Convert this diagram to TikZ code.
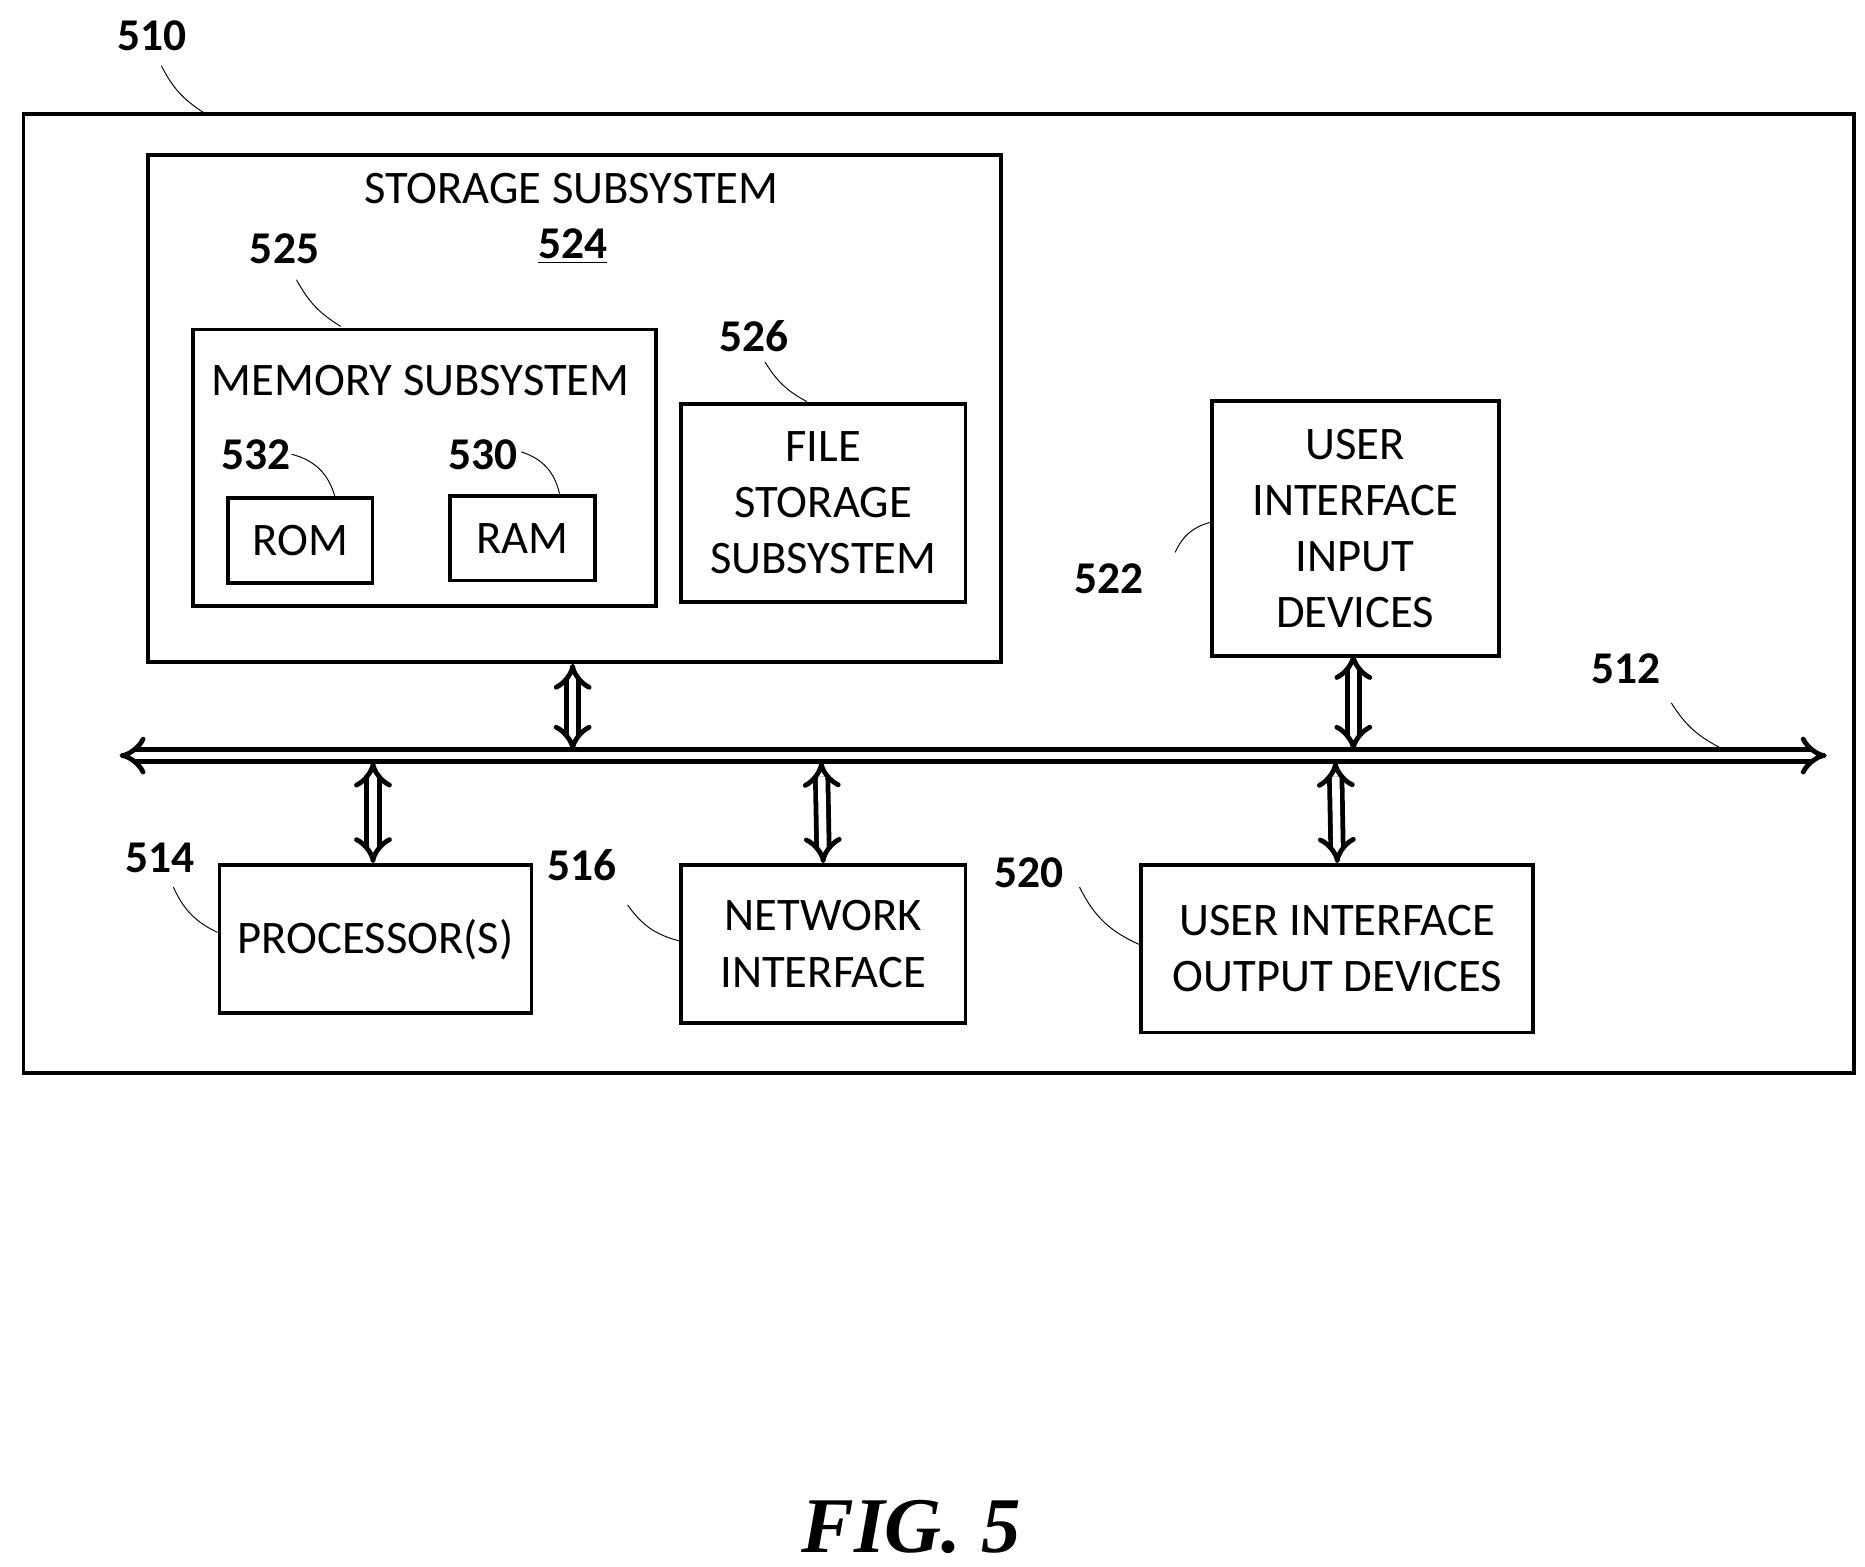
\documentclass[tikz,border=0pt]{standalone}
\usepackage{fontspec}
\setmainfont{Carlito}
\newfontfamily\figfont{Liberation Serif}
\usetikzlibrary{arrows.meta,positioning}
\begin{document}
\begin{tikzpicture}[x=0.5pt,y=-0.5pt,
	box/.style={draw, line width=1.6pt, inner sep=0pt},
	txt/.style={font=\fontsize{19.5}{23.5}\selectfont, align=center},
	num/.style={font=\fontsize{19}{22}\selectfont\bfseries},
	lead/.style={thin},
	bus/.style={double, double distance=3.2pt, line width=2pt, {Implies}-{Implies}},
	]
	\useasboundingbox (0,0) rectangle (1560,1310);
	% frames
	\node[box, minimum width=765.5pt, minimum height=401pt, anchor=north west] (sys) at (18,94) {};
	\node[box, minimum width=357pt, minimum height=212pt, anchor=north west] (storage) at (122,128) {};
	\node[box, minimum width=193.5pt, minimum height=115.5pt, anchor=north west] (memory) at (160,274) {};
	\node[box, minimum width=60.5pt, minimum height=35.5pt, anchor=north west, txt] (rom) at (189,415) {ROM};
	\node[box, minimum width=60.5pt, minimum height=35.5pt, anchor=north west, txt] (ram) at (375,413) {RAM};
	\node[box, minimum width=119pt, minimum height=83pt, anchor=north west] (file) at (568,336) {};
	\node[txt] at (file.center) {FILE\\STORAGE\\SUBSYSTEM};
	\node[box, minimum width=120pt, minimum height=106.5pt, anchor=north west] (uiin) at (1012,334) {};
	\node[txt] at (uiin.center) {USER\\INTERFACE\\INPUT\\DEVICES};
	\node[box, minimum width=130.5pt, minimum height=62pt, anchor=north west, txt] (proc) at (182,722) {PROCESSOR(S)};
	\node[box, minimum width=119pt, minimum height=66pt, anchor=north west] (net) at (568,722) {};
	\node[txt] at (net.center) {NETWORK\\INTERFACE};
	\node[box, minimum width=164pt, minimum height=70pt, anchor=north west] (uiout) at (953,722) {};
	\node[txt] at (uiout.center) {USER INTERFACE\\OUTPUT DEVICES};
	% titles
	\node[txt] (storageText) at (478,158) {STORAGE SUBSYSTEM};
	\node[num] (storageNum) at (479,206) {\underline{524}};
	\node[txt] (memoryText) at (352,318) {MEMORY SUBSYSTEM};
	% bus
	\coordinate (busL) at (100,632);
	\coordinate (busR) at (1528,632);
	\draw[bus] (busL) -- (busR);
	\draw[bus] (storage.south -| storageNum) -- (479,628);
	\draw[bus] (1132,547) -- (1132,628);
	\draw[bus] (312,637) -- (proc.north -| 312,0);
	\draw[bus] (687,637) -- (net.north);
	\draw[bus] (1117,637) -- (uiout.north);
	% reference numerals
	\node[num] (n510) at (127,30) {510};
	\node[num] (n525) at (238,208) {525};
	\node[num] (n532) at (214,380) {532};
	\node[num] (n530) at (404,380) {530};
	\node[num] (n526) at (631,281) {526};
	\node[num] (n522) at (928,484) {522};
	\node[num] (n512) at (1360,559) {512};
	\node[num] (n514) at (134,718) {514};
	\node[num] (n516) at (487,724) {516};
	\node[num] (n520) at (861,730) {520};
	\draw[lead] (135,55) to[bend right=15] (170,94);
	\draw[lead] (248,234) to[bend right=15] (285,273);
	\draw[lead] (244,380) to[bend left=30] (280,415);
	\draw[lead] (436,378) to[bend left=30] (468,413);
	\draw[lead] (640,303) to[bend right=15] (675,336);
	\draw[lead] (983,462) to[bend left=25] (1012,437);
	\draw[lead] (1398,588) to[bend right=15] (1438,625);
	\draw[lead] (145,742) to[bend right=20] (182,780);
	\draw[lead] (525,757) to[bend right=20] (568,787);
	\draw[lead] (903,742) to[bend right=20] (953,790);
	% caption
	\node[font=\figfont\fontsize{33}{36}\selectfont\bfseries\itshape] (fig) at (762,1277) {FIG. 5};
\end{tikzpicture}
\end{document}
